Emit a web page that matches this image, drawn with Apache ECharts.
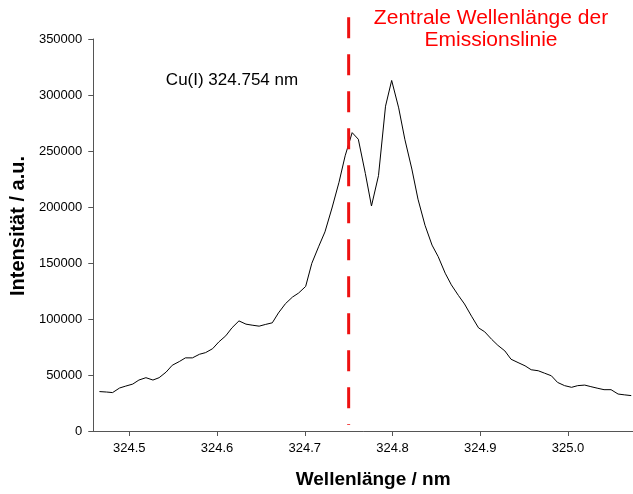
<!DOCTYPE html>
<html>
<head>
<meta charset="utf-8">
<script src="https://cdn.jsdelivr.net/npm/echarts@6/dist/echarts.min.js"></script>
<style>
  html, body { margin: 0; padding: 0; background: #fff; }
  #chart { width: 633px; height: 494px; }
</style>
</head>
<body>
<div id="chart"></div>
<script>
// spectrum of the Cu(I) line
const wavelength = [
  324.466, 324.474, 324.481, 324.489, 324.496, 324.504, 324.511, 324.519, 324.527, 324.534,
  324.542, 324.549, 324.557, 324.564, 324.572, 324.580, 324.587, 324.595, 324.602, 324.610,
  324.617, 324.625, 324.633, 324.640, 324.648, 324.655, 324.663, 324.670, 324.678, 324.686,
  324.693, 324.701, 324.708, 324.716, 324.723, 324.731, 324.739, 324.746, 324.754, 324.761,
  324.769, 324.776, 324.784, 324.792, 324.799, 324.807, 324.814, 324.822, 324.829, 324.837,
  324.845, 324.852, 324.860, 324.867, 324.875, 324.882, 324.890, 324.898, 324.905, 324.913,
  324.920, 324.928, 324.935, 324.943, 324.951, 324.958, 324.966, 324.973, 324.981, 324.988,
  324.996, 325.004, 325.011, 325.019, 325.026, 325.034, 325.041, 325.049, 325.057, 325.064,
  325.072
];
const intensity = [
  35200, 34800, 34300, 38400, 40100, 41900, 45500, 47600, 45500, 47600,
  52600, 58700, 62000, 65300, 65300, 68500, 70000, 73500, 79500, 85000,
  92100, 98300, 95400, 94500, 93600, 95100, 96600, 105400, 113700, 119600,
  123200, 129100, 149700, 165000, 177800, 199100, 222100, 245700, 266400, 260500,
  230000, 200900, 228000, 290000, 313000, 288500, 260500, 233900, 207000, 183700,
  166000, 155700, 140900, 130500, 121100, 113400, 102500, 92100, 88600, 81800,
  76500, 71500, 64100, 61100, 58200, 54700, 53800, 51700, 49300, 43400,
  40500, 39000, 40500, 41000, 39600, 38100, 36900, 36900, 33000, 32300,
  31600
];
const xTicks = [324.5, 324.6, 324.7, 324.8, 324.9, 325.0];
const centerLine = 324.75;
const centerLineSpan = [369500, 5300];

const font = '"Liberation Sans", Arial, sans-serif';
const chart = echarts.init(document.getElementById('chart'));

const spectrum = wavelength.map((w, i) => [w, intensity[i]]);
const marker = centerLineSpan.map(v => [centerLine, v]);

chart.setOption({
  animation: false,
  textStyle: { fontFamily: font },
  grid: { left: 93, right: 0, top: 39, bottom: 60, containLabel: false },
  xAxis: {
    type: 'value',
    min: 324.459,
    max: 325.074,
    name: 'Wellenlänge / nm',
    nameLocation: 'middle',
    nameGap: 39,
    nameTextStyle: {
      fontSize: 19, fontWeight: 'bold', color: '#000', fontFamily: font,
      padding: [0, 0, 0, 20]
    },
    axisLine: { lineStyle: { color: '#555', width: 1 } },
    axisTick: { show: true, length: 5, lineStyle: { color: '#555' }, customValues: xTicks },
    axisLabel: {
      color: '#000', fontSize: 13, margin: 11, customValues: xTicks,
      formatter: v => v.toFixed(1)
    },
    splitLine: { show: false }
  },
  yAxis: {
    type: 'value',
    min: 0,
    max: 350000,
    interval: 50000,
    name: 'Intensität / a.u.',
    nameLocation: 'middle',
    nameGap: 59,
    nameTextStyle: {
      fontSize: 20, fontWeight: 'bold', color: '#000', fontFamily: font,
      padding: [0, 0, 0, 18]
    },
    axisLine: { show: true, lineStyle: { color: '#555', width: 1 } },
    axisTick: { show: true, length: 5, lineStyle: { color: '#555' } },
    axisLabel: { color: '#000', fontSize: 13, margin: 11, formatter: v => String(v) },
    splitLine: { show: false }
  },
  series: [
    {
      type: 'line',
      data: spectrum,
      showSymbol: false,
      lineStyle: { color: '#000', width: 1 },
      z: 2
    },
    {
      type: 'line',
      data: marker,
      showSymbol: false,
      clip: false,
      lineStyle: { color: '#ee1111', width: 3, type: [21, 16] },
      z: 3
    }
  ],
  graphic: [
    {
      type: 'text', x: 232, y: 80,
      style: { text: 'Cu(I) 324.754 nm', font: '17px ' + font, fill: '#000', align: 'center', verticalAlign: 'middle' }
    },
    {
      type: 'text', x: 491, y: 7,
      style: {
        text: 'Zentrale Wellenlänge der\nEmissionslinie', font: '21px ' + font,
        fill: '#ff0000', align: 'center', verticalAlign: 'top', lineHeight: 22
      }
    }
  ]
});
</script>
</body>
</html>
